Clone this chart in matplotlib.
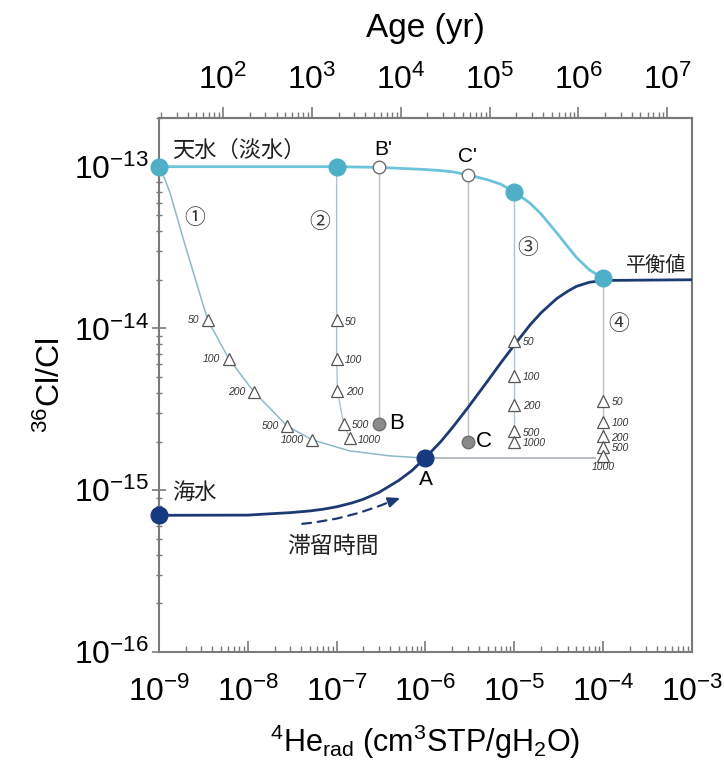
import matplotlib
matplotlib.use("Agg")
import matplotlib.pyplot as plt
from matplotlib.ticker import LogLocator, NullFormatter, FixedLocator

plt.rcParams['font.family'] = ['Liberation Sans', 'Noto Sans CJK JP', 'DejaVu Sans']
plt.rcParams['mathtext.fontset'] = 'custom'
plt.rcParams['mathtext.rm'] = 'Liberation Sans'
plt.rcParams['mathtext.it'] = 'Liberation Sans:italic'
plt.rcParams['mathtext.bf'] = 'Liberation Sans:bold'

# ---- data -------------------------------------------------------------
# fresh water (meteoric) evolution
he_fresh = [1e-9, 1e-8, 1e-7, 3e-7, 1e-6, 1.5e-6, 2e-6, 3e-6, 5e-6, 7e-6,
            1e-5, 1.5e-5, 2e-5, 3e-5, 4e-5, 5e-5, 7e-5, 1e-4]
r_fresh = [1.0e-13, 1.0e-13, 1.0e-13, 9.9e-14, 9.6e-14, 9.45e-14, 9.3e-14,
           8.9e-14, 8.3e-14, 7.8e-14, 7.0e-14, 5.95e-14, 5.1e-14, 3.9e-14,
           3.2e-14, 2.75e-14, 2.3e-14, 2.05e-14]

# sea water evolution
he_sea = [1e-9, 1e-8, 2e-8, 3e-8, 5e-8, 7e-8, 1e-7, 1.5e-7, 2e-7, 3e-7, 5e-7,
          7e-7, 1e-6, 1.5e-6, 2e-6, 3e-6, 5e-6, 7e-6, 1e-5, 1.5e-5, 2e-5,
          3e-5, 4e-5, 5e-5, 7e-5, 1e-4, 1e-3]
r_sea = [7.0e-16, 7.02e-16, 7.18e-16, 7.27e-16, 7.45e-16, 7.63e-16, 7.9e-16,
         8.36e-16, 8.8e-16, 9.7e-16, 1.15e-15, 1.32e-15, 1.59e-15, 2.01e-15,
         2.43e-15, 3.24e-15, 4.73e-15, 6.1e-15, 7.9e-15, 1.05e-14, 1.25e-14,
         1.53e-14, 1.70e-14, 1.82e-14, 1.93e-14, 1.98e-14, 2.0e-14]

# key points
he_fresh_pts = [1e-9, 1e-7, 1e-5, 1e-4]
r_fresh_pts = [1.0e-13, 1.0e-13, 7.0e-14, 2.05e-14]
he_sea_pts = [1e-9, 1e-6]
r_sea_pts = [7.0e-16, 1.58e-15]

# mixing line 1
he_mix1 = [1e-9, 1.15e-9, 1.33e-9, 1.96e-9, 3.1e-9, 3.56e-9, 6.1e-9, 1.17e-8,
           2.76e-8, 5.3e-8, 1.4e-7, 4e-7, 1e-6]
r_mix1 = [1.0e-13, 8.5e-14, 6.9e-14, 3.3e-14, 1.43e-14, 1.12e-14, 6.5e-15,
          4.06e-15, 2.5e-15, 2.05e-15, 1.75e-15, 1.63e-15, 1.58e-15]
he_tri1 = [3.56e-9, 6.1e-9, 1.17e-8, 2.76e-8, 5.3e-8]
r_tri1 = [1.12e-14, 6.5e-15, 4.06e-15, 2.5e-15, 2.05e-15]

# mixing line 2
he_tri2 = [1.0e-7, 1.0e-7, 1.02e-7, 1.2e-7, 1.4e-7]
r_tri2 = [1.12e-14, 6.5e-15, 4.12e-15, 2.57e-15, 2.1e-15]

# mixing line 3
he_tri3 = [1e-5, 1e-5, 1e-5, 1e-5, 1e-5]
r_tri3 = [8.4e-15, 5.1e-15, 3.37e-15, 2.32e-15, 1.99e-15]

# mixing line 4
he_tri4 = [1e-4, 1e-4, 1e-4, 1e-4, 1e-4]
r_tri4 = [3.57e-15, 2.64e-15, 2.16e-15, 1.85e-15, 1.63e-15]

tri_labels = ['50', '100', '200', '500', '1000']

# B/B' and C/C'
he_b = 3e-7
r_bp, r_b = 1.0e-13, 2.57e-15
he_c = 3e-6
r_cp, r_c = 8.9e-14, 2.0e-15

# plateau from A
he_plateau = [1e-6, 8e-5]
r_plateau = [1.58e-15, 1.58e-15]

AGE_PER_HE = 1.9e10   # yr per (cm3STP/gH2O)

x_ticks = [1e-9, 1e-8, 1e-7, 1e-6, 1e-5, 1e-4, 1e-3]
x_ticklabels = [r'$10^{-9}$', r'$10^{-8}$', r'$10^{-7}$', r'$10^{-6}$',
                r'$10^{-5}$', r'$10^{-4}$', r'$10^{-3}$']
y_ticks = [1e-16, 1e-15, 1e-14, 1e-13]
y_ticklabels = [r'$10^{-16}$', r'$10^{-15}$', r'$10^{-14}$', r'$10^{-13}$']
age_ticks = [1e2, 1e3, 1e4, 1e5, 1e6, 1e7]
age_ticklabels = [r'$10^{2}$', r'$10^{3}$', r'$10^{4}$', r'$10^{5}$',
                  r'$10^{6}$', r'$10^{7}$']

# ---- styling ----------------------------------------------------------
LIGHT = '#6cc4d8'
LIGHT_DOT = '#4faec8'
NAVY = '#1e3a72'
NAVY_DOT = '#163a80'
SPINE = '#7a7a7a'
THIN = '#a9c7d2'
GREY_LINE = '#bdbdbd'
JP = ['Noto Sans CJK JP', 'DejaVu Sans']

fig = plt.figure(figsize=(7.24, 7.69), dpi=100)
ax = fig.add_axes([0.2196, 0.1521, 0.7362, 0.6945])
ax.set_xscale('log')
ax.set_yscale('log')
ax.set_xlim(1e-9, 1e-3)
ax.set_ylim(1e-16, 2e-13)

# thin construction lines
ax.plot(he_mix1, r_mix1, color='#8fb9c8', lw=1.1, zorder=2)
ax.plot([1e-7] + he_tri2, [1.0e-13] + r_tri2, color=THIN, lw=1.0, zorder=2)
ax.plot([1e-5] + he_tri3, [7.0e-14] + r_tri3, color=THIN, lw=1.0, zorder=2)
ax.plot([1e-4] + he_tri4, [2.05e-14] + r_tri4, color=GREY_LINE, lw=1.0, zorder=2)
ax.plot([he_b, he_b], [r_bp, r_b], color=GREY_LINE, lw=1.0, zorder=2)
ax.plot([he_c, he_c], [r_cp, r_c], color=GREY_LINE, lw=1.0, zorder=2)
ax.plot(he_plateau, r_plateau, color='#b0b6bc', lw=1.3, zorder=2)

# main evolution curves
ax.plot(he_fresh, r_fresh, color=LIGHT, lw=2.0, zorder=3)
ax.plot(he_sea, r_sea, color=NAVY, lw=2.0, zorder=3)

# triangles
tri_kw = dict(marker='^', ms=8, mfc='white', mec='#555555', mew=0.9,
              ls='none', zorder=5)
for hx, ry in [(he_tri1, r_tri1), (he_tri2, r_tri2), (he_tri3, r_tri3),
               (he_tri4, r_tri4)]:
    ax.plot(hx, ry, **tri_kw)

lab_kw = dict(fontsize=7.5, style='italic', color='#333333', va='center',
              zorder=6)
for hx, ry, t in zip(he_tri1, r_tri1, tri_labels):
    ax.annotate(t, (hx, ry), xytext=(-6, 0), textcoords='offset points',
                ha='right', **lab_kw)
for tri_h, tri_r in [(he_tri2, r_tri2), (he_tri3, r_tri3)]:
    for hx, ry, t in zip(tri_h, tri_r, tri_labels):
        ax.annotate(t, (hx, ry), xytext=(6, -1), textcoords='offset points',
                    ha='left', **lab_kw)
for hx, ry, t in zip(he_tri4[:4], r_tri4[:4], tri_labels[:4]):
    ax.annotate(t, (hx, ry), xytext=(6, -1), textcoords='offset points',
                ha='left', **lab_kw)
ax.annotate(tri_labels[4], (he_tri4[4], r_tri4[4]), xytext=(0, -8),
            textcoords='offset points', ha='center', **lab_kw)

# big dots
ax.plot(he_fresh_pts, r_fresh_pts, 'o', ms=12, color=LIGHT_DOT, mec=LIGHT_DOT,
        zorder=6, clip_on=False)
ax.plot(he_sea_pts, r_sea_pts, 'o', ms=12, color=NAVY_DOT, mec=NAVY_DOT,
        zorder=6, clip_on=False)
ax.plot([he_b, he_c], [r_bp, r_cp], 'o', ms=9, mfc='white', mec='#6f6f6f',
        mew=1.0, zorder=6)
ax.plot([he_b, he_c], [r_b, r_c], 'o', ms=9, color='#8a8a8a', mec='#6f6f6f',
        zorder=6)

# text labels
ax.text(1.4e-9, 1.27e-13, '天水（淡水）', family=JP, fontsize=16,
        ha='left', va='center', color='#222222')
ax.text(3.3e-7, 1.27e-13, "B'", fontsize=15, ha='center', va='center')
ax.text(3.0e-6, 1.16e-13, "C'", fontsize=15, ha='center', va='center')
ax.text(3.95e-4, 2.45e-14, '平衡値', family=JP, fontsize=14.5,
        ha='center', va='center', color='#222222')
ax.text(1.4e-9, 9.7e-16, '海水', family=JP, fontsize=16,
        ha='left', va='center', color='#222222')
ax.text(1e-6, 1.17e-15, 'A', fontsize=15, ha='center', va='center')
ax.text(3.9e-7, 2.57e-15, 'B', fontsize=16, ha='left', va='center')
ax.text(3.7e-6, 2.0e-15, 'C', fontsize=16, ha='left', va='center')
ax.text(9.1e-8, 4.5e-16, '滞留時間', family=JP, fontsize=16.5,
        ha='center', va='center', color='#222222')

for sym, hx, ry in [('①', 2.54e-9, 4.8e-14), ('②', 6.5e-8, 4.55e-14),
                    ('③', 1.43e-5, 3.14e-14), ('④', 1.48e-4, 1.07e-14)]:
    ax.text(hx, ry, sym, family=JP, fontsize=15, ha='center', va='center',
            color='#333333')

# residence-time arrow
ax.annotate('', xy=(4.2e-7, 8.6e-16), xytext=(4.1e-8, 6.2e-16),
            arrowprops=dict(arrowstyle='-', linestyle=(0, (4, 3)), lw=1.6,
                            color=NAVY, connectionstyle='arc3,rad=0.08',
                            shrinkA=0, shrinkB=0))
ax.annotate('', xy=(5.2e-7, 8.95e-16), xytext=(4.0e-7, 8.5e-16),
            arrowprops=dict(arrowstyle='-|>,head_length=0.7,head_width=0.3',
                            lw=1.6, color=NAVY, shrinkA=0, shrinkB=0))

# ---- axes ------------------------------------------------------------
for s in ax.spines.values():
    s.set_color(SPINE)
    s.set_linewidth(1.5)

ax.xaxis.set_major_locator(FixedLocator(x_ticks))
ax.set_xticklabels(x_ticklabels)
ax.xaxis.set_minor_locator(LogLocator(base=10, subs=range(2, 10), numticks=20))
ax.xaxis.set_minor_formatter(NullFormatter())
ax.yaxis.set_major_locator(FixedLocator(y_ticks))
ax.set_yticklabels(y_ticklabels)
ax.yaxis.set_minor_locator(LogLocator(base=10, subs=range(2, 10), numticks=20))
ax.yaxis.set_minor_formatter(NullFormatter())

ax.tick_params(axis='x', which='major', direction='in', length=8, width=1.2,
               color=SPINE, labelsize=23, pad=18, top=False)
ax.tick_params(axis='x', which='minor', direction='in', length=4, width=1.0,
               color=SPINE, top=False)
ax.tick_params(axis='y', which='major', direction='inout', length=10,
               width=1.2, color=SPINE, labelsize=23, pad=2, right=False)
ax.tick_params(axis='y', which='minor', direction='inout', length=5,
               width=1.0, color=SPINE, right=False)

ax.set_xlabel(r'$^{4}$He$_{\rm rad}$ (cm$^{3}$STP/gH$_{2}$O)', fontsize=22,
              labelpad=10)
ax.set_ylabel(r'$^{36}$Cl/Cl', fontsize=23, labelpad=5)

top = ax.secondary_xaxis('top', functions=(lambda h: h * AGE_PER_HE,
                                           lambda a: a / AGE_PER_HE))
top.xaxis.set_major_locator(FixedLocator(age_ticks))
top.set_xticklabels(age_ticklabels)
top.xaxis.set_minor_locator(LogLocator(base=10, subs=range(2, 10), numticks=20))
top.xaxis.set_minor_formatter(NullFormatter())
top.tick_params(which='major', direction='out', length=8, width=1.2,
                color=SPINE, labelsize=23, pad=8)
top.tick_params(which='minor', direction='out', length=4, width=1.0,
                color=SPINE)
top.spines['top'].set_color(SPINE)
top.spines['top'].set_linewidth(1.5)
top.set_xlabel('Age (yr)', fontsize=24, labelpad=20)

fig.savefig('out.png', dpi=100)
